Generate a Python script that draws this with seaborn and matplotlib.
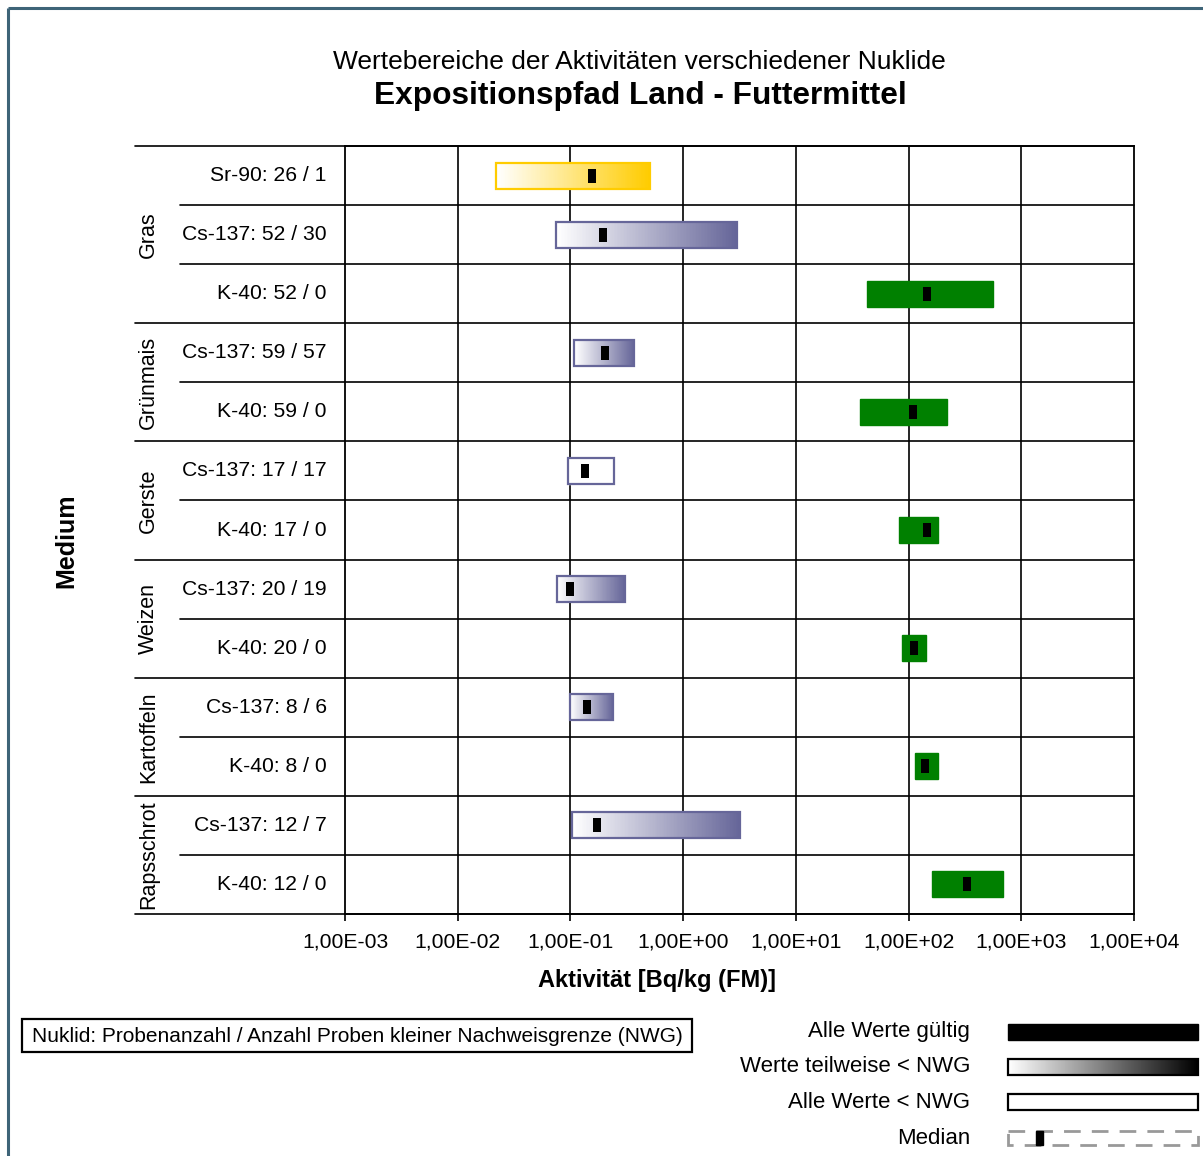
import numpy as np
import pandas as pd
import seaborn as sns
import matplotlib.pyplot as plt
from matplotlib.colors import LinearSegmentedColormap
from matplotlib.patches import Rectangle
import matplotlib.transforms as mtransforms

# ---- data ----
media = ["Gras", "Gras", "Gras", "Grünmais", "Grünmais", "Gerste", "Gerste",
         "Weizen", "Weizen", "Kartoffeln", "Kartoffeln", "Rapsschrot", "Rapsschrot"]
nuclide = ["Sr-90", "Cs-137", "K-40", "Cs-137", "K-40", "Cs-137", "K-40",
           "Cs-137", "K-40", "Cs-137", "K-40", "Cs-137", "K-40"]
n_samples = [26, 52, 52, 59, 59, 17, 17, 20, 20, 8, 8, 12, 12]
n_below = [1, 30, 0, 57, 0, 17, 0, 19, 0, 6, 0, 7, 0]
act_min = [0.022, 0.075, 43, 0.108, 37, 0.095, 82, 0.076, 87, 0.099, 114, 0.103, 161]
act_max = [0.51, 3.0, 560, 0.37, 220, 0.244, 183, 0.305, 143, 0.239, 183, 3.2, 690]
act_median = [0.156, 0.195, 146, 0.203, 110, 0.135, 146, 0.099, 112, 0.140, 140, 0.172, 330]

nuclide_colors = {"Sr-90": "#FFCC00", "Cs-137": "#666699", "K-40": "#008000"}
decades = [1e-3, 1e-2, 1e-1, 1e0, 1e1, 1e2, 1e3, 1e4]

df = pd.DataFrame({"medium": media, "nuclide": nuclide, "n": n_samples,
                   "below": n_below, "lo": act_min, "hi": act_max,
                   "median": act_median})
df["row"] = np.arange(len(df))
df["label"] = [f"{a}: {b} / {c}" for a, b, c in zip(df.nuclide, df.n, df.below)]

sns.set_theme(style="white")
plt.rcParams["font.family"] = ["Liberation Sans", "DejaVu Sans"]
plt.rcParams["text.color"] = "black"

W, H = 1203, 1156
fig = plt.figure(figsize=(W / 100, H / 100), dpi=100)
ax = fig.add_axes([345 / W, 1 - 914 / H, 789 / W, 768 / H])
ax.set_xscale("log")
ax.set_xlim(decades[0], decades[-1])
ax.set_ylim(len(df) - 0.5, -0.5)

bar_h = 0.44
for _, r in df.iterrows():
    col = nuclide_colors[r.nuclide]
    y = r.row
    if r.below == 0:
        ax.barh(y, r.hi - r.lo, left=r.lo, height=bar_h, color=col,
                edgecolor=col, linewidth=1, zorder=3)
    else:
        if r.below < r.n:
            cmap = LinearSegmentedColormap.from_list("g", ["white", col])
            xe = np.geomspace(r.lo, r.hi, 121)
            ye = [y - bar_h / 2, y + bar_h / 2]
            ax.pcolormesh(xe, ye, np.linspace(0, 1, 120)[None, :], cmap=cmap,
                          shading="flat", zorder=3)
        else:
            ax.barh(y, r.hi - r.lo, left=r.lo, height=bar_h, color="white", zorder=3)
        ax.barh(y, r.hi - r.lo, left=r.lo, height=bar_h, fill=False,
                edgecolor=col, linewidth=1.6, zorder=4)

med_marker = [(-0.29, -0.5), (0.29, -0.5), (0.29, 0.5), (-0.29, 0.5)]
sns.scatterplot(data=df, x="median", y="row", marker=med_marker, s=110,
                color="black", edgecolor="black", linewidth=0, zorder=5, ax=ax,
                legend=False)

# grid / table lines
ax.set_xticks(decades)
ax.set_xticks([], minor=True)
ax.set_xticklabels([f"{v:.2E}".replace(".", ",") for v in decades], fontsize=15.2)
for d in decades[1:-1]:
    ax.axvline(d, color="black", lw=1.2, zorder=1)
ax.set_yticks([])
ax.set_xlabel("")
ax.set_ylabel("")
ax.tick_params(axis="x", direction="out", length=5, width=1.2, pad=8,
               colors="black", labelcolor="black", bottom=True)
for s in ax.spines.values():
    s.set_color("black")
    s.set_linewidth(1.3)

trans = mtransforms.blended_transform_factory(ax.transAxes, ax.transData)
groups = df.groupby("medium", sort=False)["row"].agg(["min", "max"])
group_edges = set([-0.5] + list(groups["max"] + 0.5))
for b in np.arange(-0.5, len(df), 1.0):
    x0 = -0.266 if b in group_edges else -0.209
    ax.plot([x0, 1], [b, b], color="black", lw=1.2, transform=trans,
            clip_on=False, zorder=2)

for _, r in df.iterrows():
    ax.text(-0.023, r.row, r.label, transform=trans, ha="right", va="center",
            fontsize=15.2, color="black")
for m, g in groups.iterrows():
    ax.text(-0.249, (g["min"] + g["max"]) / 2, m, transform=trans, rotation=90,
            ha="center", va="center", fontsize=15.5, color="black")

# titles and axis labels
fig.text(639 / W, 1 - 62 / H, "Wertebereiche der Aktivitäten verschiedener Nuklide",
         ha="center", va="center", fontsize=19)
fig.text(640 / W, 1 - 96 / H, "Expositionspfad Land - Futtermittel",
         ha="center", va="center", fontsize=22.8, fontweight="bold")
fig.text(657 / W, 1 - 980 / H, "Aktivität [Bq/kg (FM)]", ha="center", va="center",
         fontsize=17, fontweight="bold")
fig.text(66 / W, 1 - 541 / H, "Medium", ha="center", va="center", rotation=90,
         fontsize=18, fontweight="bold")

# overlay in pixel coordinates for legend and frame
lax = fig.add_axes([0, 0, 1, 1], zorder=-1)
lax.set_xlim(0, W)
lax.set_ylim(H, 0)
lax.axis("off")
frame = "#3E6478"
lax.plot([8, W], [8, 8], color=frame, lw=2.2, solid_capstyle="butt")
lax.plot([8, 8], [8, H], color=frame, lw=2.2, solid_capstyle="butt")

lax.add_patch(Rectangle((22, 1019), 670, 33, fill=False, edgecolor="black", lw=1.6))
lax.text(357, 1036, "Nuklid: Probenanzahl / Anzahl Proben kleiner Nachweisgrenze (NWG)",
         ha="center", va="center", fontsize=15)

leg_labels = ["Alle Werte gültig", "Werte teilweise < NWG", "Alle Werte < NWG", "Median"]
leg_y = [1032, 1067, 1102, 1138]
sx0, sx1, sh = 1008, 1198, 16
for lab, yy in zip(leg_labels, leg_y):
    lax.text(970, yy, lab, ha="right", va="center", fontsize=16)
lax.add_patch(Rectangle((sx0, leg_y[0] - sh / 2), sx1 - sx0, sh, color="black"))
lax.imshow(np.linspace(0, 1, 200)[None, :], cmap=LinearSegmentedColormap.from_list(
    "bw", ["white", "black"]), aspect="auto",
    extent=[sx0, sx1, leg_y[1] + sh / 2, leg_y[1] - sh / 2], zorder=2)
lax.add_patch(Rectangle((sx0, leg_y[1] - sh / 2), sx1 - sx0, sh, fill=False,
                        edgecolor="black", lw=1.6, zorder=3))
lax.add_patch(Rectangle((sx0, leg_y[2] - sh / 2), sx1 - sx0, sh, fill=False,
                        edgecolor="black", lw=1.6))
lax.add_patch(Rectangle((sx0, leg_y[3] - sh / 2 + 1), sx1 - sx0, sh - 2, fill=False,
                        edgecolor="#999999", lw=2, linestyle=(0, (6, 4))))
lax.add_patch(Rectangle((1036, leg_y[3] - 7), 7, 14, color="black"))
lax.set_xlim(0, W)
lax.set_ylim(H, 0)

fig.savefig("out.png", dpi=100)
